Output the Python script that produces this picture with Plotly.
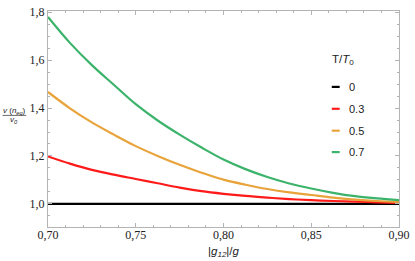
import plotly.graph_objects as go

# ---- data ----
g_ratio = [0.70, 0.7125, 0.725, 0.7375, 0.75, 0.7625, 0.775, 0.7875, 0.80,
           0.8125, 0.825, 0.8375, 0.85, 0.8625, 0.875, 0.8875, 0.90]
v_T0 = [1.0] * 17
v_T03 = [1.198, 1.168, 1.142, 1.122, 1.104, 1.086, 1.068, 1.053, 1.042,
         1.033, 1.026, 1.020, 1.0155, 1.012, 1.009, 1.0065, 1.0045]
v_T05 = [1.467, 1.399, 1.340, 1.289, 1.241, 1.200, 1.163, 1.130, 1.101,
         1.080, 1.062, 1.048, 1.037, 1.026, 1.018, 1.012, 1.008]
v_T07 = [1.780, 1.672, 1.579, 1.497, 1.416, 1.348, 1.289, 1.235, 1.185,
         1.145, 1.112, 1.085, 1.064, 1.046, 1.032, 1.023, 1.016]
series_names = ["0", "0.3", "0.5", "0.7"]
series_colors = ["#000000", "#ff1a1a", "#e8a33a", "#3cb36b"]
x_ticks = [0.70, 0.75, 0.80, 0.85, 0.90]
y_ticks = [1.0, 1.2, 1.4, 1.6, 1.8]

W, H = 415, 261
L, R, T, B = 48, 12, 5, 34
pw, ph = W - L - R, H - T - B


def px(xp):
    return (xp - L) / pw


def py(yp):
    return (H - B - yp) / ph


fig = go.Figure()
for ys, name, col in zip([v_T0, v_T03, v_T05, v_T07], series_names, series_colors):
    fig.add_trace(go.Scatter(x=g_ratio, y=ys, mode="lines", name=name,
                             line=dict(color=col, width=2.2, shape="spline", smoothing=1.0),
                             showlegend=False, hoverinfo="skip"))

frame = "#b4b4b4"
serif = "Liberation Serif, serif"
tickfont = dict(family=serif, size=12, color="#222222")
fig.update_xaxes(range=[0.70, 0.90], tickvals=x_ticks, tickformat=".2f",
                 showgrid=False, zeroline=False, showline=True, linecolor=frame, linewidth=1,
                 mirror="allticks", ticks="inside", ticklen=4, tickcolor=frame,
                 ticklabelstandoff=-3,
                 minor=dict(dtick=0.01, ticks="inside", ticklen=2, tickcolor=frame, showgrid=False),
                 tickfont=tickfont)
fig.update_yaxes(range=[0.9035, 1.805], tickvals=y_ticks, tickformat=".1f",
                 showgrid=False, zeroline=False, showline=True, linecolor=frame, linewidth=1,
                 mirror="allticks", ticks="inside", ticklen=4, tickcolor=frame,
                 minor=dict(dtick=0.05, ticks="inside", ticklen=2, tickcolor=frame, showgrid=False),
                 tickfont=tickfont)

sans = "Liberation Sans, Arial, sans-serif"
ann = []


def add_text(xp, yp, text, size, xanchor="center", yanchor="middle"):
    ann.append(dict(x=px(xp), y=py(yp), xref="paper", yref="paper", showarrow=False,
                    xanchor=xanchor, yanchor=yanchor, text=text,
                    font=dict(family=sans, size=size, color="#222222")))


# y-axis label as a fraction
add_text(14, 107.5, "<i>v</i> (<i>n</i><sub><i>eq</i></sub>)", 8)
add_text(14, 117.5, "<i>v</i><sub><i>0</i></sub>", 8)
# x-axis label
add_text(226, 243, "|<i>g</i><sub><i>12</i></sub>|/<i>g</i>", 11.5, yanchor="top")
# legend
add_text(333, 55, "T/<i>T</i><sub>0</sub>", 11.5, "left")
shapes = [dict(type="line", xref="paper", yref="paper", x0=px(2), x1=px(26), y0=py(112.3), y1=py(112.3),
               line=dict(color="#444444", width=0.8))]
leg_y = [83, 105.5, 128, 150]
for name, col, yy in zip(series_names, series_colors, leg_y):
    add_text(350, yy, name, 11, "left")
    shapes.append(dict(type="line", xref="paper", yref="paper", x0=px(335), x1=px(343),
                       y0=py(yy), y1=py(yy), line=dict(color=col, width=2.2)))

fig.update_layout(width=W, height=H, margin=dict(l=L, r=R, t=T, b=B, pad=0),
                  paper_bgcolor="white", plot_bgcolor="white", separators=",.",
                  font=dict(family=serif),
                  annotations=ann, shapes=shapes, showlegend=False)
fig.write_html("out.html", config={"displayModeBar": False},
               post_script="document.body.style.margin='0';document.body.style.padding='0';")
